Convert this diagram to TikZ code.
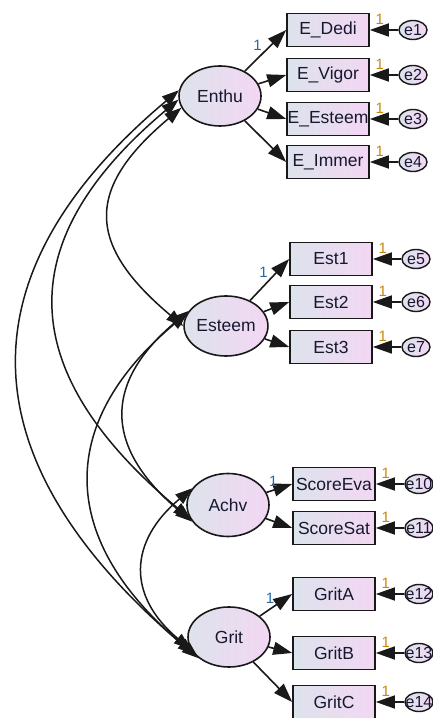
\documentclass[tikz,border=0pt]{standalone}
\usepackage{fontspec}
\setmainfont{Liberation Sans}
\usetikzlibrary{arrows.meta,shapes.geometric}
\definecolor{L}{RGB}{221,227,236}
\definecolor{R}{RGB}{243,215,243}
\definecolor{K}{RGB}{25,25,25}
\definecolor{T}{RGB}{22,24,48}
\definecolor{O}{RGB}{200,135,10}
\definecolor{B}{RGB}{40,105,160}
\def\Wd{433}
\def\Ht{718}
\def\Eshift{85}

\begin{document}
\begin{tikzpicture}[x=1pt,y=1pt,
    lat/.style={ellipse,draw=K,line width=1.6pt,left color=L,right color=R,text=T,inner sep=0pt,minimum width=82pt,minimum height=60pt,font=\fontsize{17.5}{20}\selectfont},
    obs/.style={rectangle,draw=K,line width=1.6pt,left color=L,right color=R,text=T,inner sep=0pt,minimum width=82pt,minimum height=33pt,font=\fontsize{17.5}{20}\selectfont},
    res/.style={ellipse,draw=K,line width=1.4pt,left color=L,right color=R,text=T,inner xsep=-4pt,inner ysep=-3pt,minimum width=28pt,minimum height=19pt,font=\fontsize{16}{18}\selectfont},
    load/.style={-{Triangle[length=19pt,width=13pt]},draw=K,line width=1.6pt},
    cov/.style={{Triangle[length=17pt,width=12pt]}-{Triangle[length=17pt,width=12pt]},draw=K,line width=1.5pt,out=220,in=140},
    one/.style={font=\fontsize{15}{15}\selectfont,inner sep=1pt}]
    \path[use as bounding box] (0,0) rectangle (\Wd,\Ht);
    \node[lat] (Enthu) at (220,622) {Enthu};
    \node[lat] (Esteem) at (226,392) {Esteem};
    \node[lat,minimum height=63pt] (Achv) at (228,213) {Achv};
    \node[lat] (Grit) at (229,81) {Grit};
    \foreach \n/\t/\x/\y/\e in {EDedi/E\_Dedi/328/688/1,EVigor/E\_Vigor/328/643/2,EEsteem/E\_Esteem/328/599/3,EImmer/E\_Immer/328/556/4,
        Est1/Est1/331/459/5,Est2/Est2/331/416/6,Est3/Est3/331/371/7,
        ScoreEva/ScoreEva/334/234/10,ScoreSat/ScoreSat/334/190/11,
        GritA/GritA/334/124/12,GritB/GritB/334/65/13,GritC/GritC/334/16/14} {
        \node[obs] (\n) at (\x,\y) {\t};
        \node[res] (e\e) at (\x+\Eshift,\y) {e\e};
        \draw[load] (e\e) -- node[one,O,pos=0.65,above=4pt] {1} (\n.east);
    }
    \draw[load] (Enthu) -- node[one,B,pos=0.45,above left] {1} (EDedi.west);
    \draw[load] (Esteem) -- node[one,B,pos=0.5,above left] {1} (Est1.west);
    \draw[load] (Achv) -- node[one,B,pos=0.5,above left] {1} (ScoreEva.west);
    \draw[load] (Grit) -- node[one,B,pos=0.5,above left] {1} (GritA.west);
    \foreach \f/\n in {Enthu/EVigor,Enthu/EEsteem,Enthu/EImmer,Esteem/Est2,Esteem/Est3,Achv/ScoreSat,Grit/GritB,Grit/GritC}
        \draw[load] (\f) -- (\n.west);
    \draw[cov,looseness=1.48] (Enthu.197) to (Esteem.180);
    \draw[cov,looseness=1.37] (Enthu.185) to (Achv.200);
    \draw[cov,looseness=1.33] (Enthu.172) to (Grit.215);
    \draw[cov,looseness=1.38] (Esteem.158) to (Achv.205);
    \draw[cov,looseness=1.31] (Esteem.162) to (Grit.207);
    \draw[cov,looseness=1.32] (Achv.155) to (Grit.198);
\end{tikzpicture}
\end{document}
